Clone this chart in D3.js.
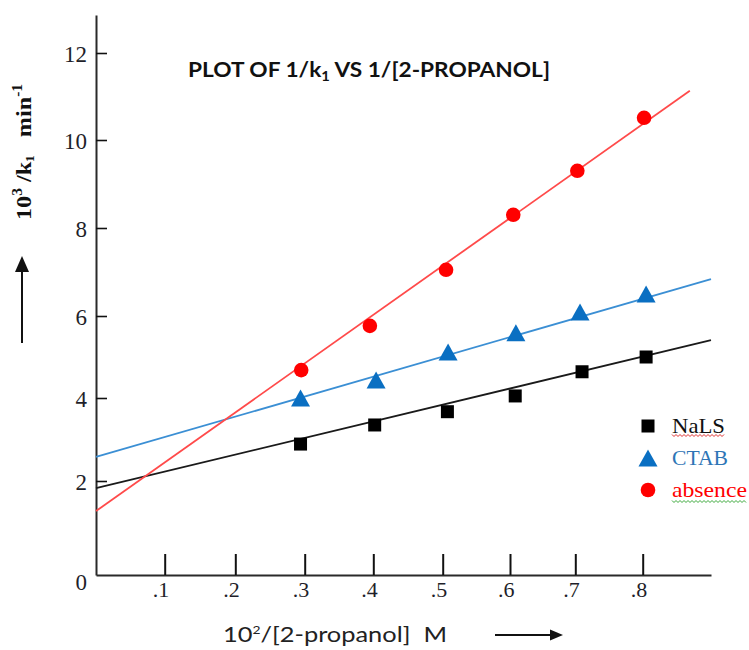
<!DOCTYPE html>
<html><head><meta charset="utf-8">
<script src="https://cdn.jsdelivr.net/npm/d3@7"></script>
<style>body{margin:0;background:#fff}svg{display:block}text{white-space:pre}</style>
</head><body>
<svg id="c" width="749" height="650"></svg>
<script>
// ---- data ----
const seriesNames = ["NaLS", "CTAB", "absence"];
const nalsX = [0.294, 0.402, 0.507, 0.608, 0.710, 0.805];
const nalsY = [2.89, 3.35, 3.67, 4.05, 4.64, 5.00];
const ctabX = [0.294, 0.404, 0.508, 0.609, 0.707, 0.805];
const ctabY = [4.00, 4.44, 5.12, 5.59, 6.09, 6.50];
const absX  = [0.295, 0.395, 0.505, 0.605, 0.703, 0.802];
const absY  = [4.68, 5.76, 7.05, 8.30, 9.30, 10.51];
// fitted straight lines (end points)
const nalsFitX = [0, 0.9],  nalsFitY = [1.85, 5.41];
const ctabFitX = [0, 0.9],  ctabFitY = [2.58, 6.84];
const absFitX  = [0, 0.869], absFitY = [1.36, 11.13];
const xTickVals = [0.1, 0.2, 0.3, 0.4, 0.5, 0.6, 0.7, 0.8];
const xTickLabels = [".1", ".2", ".3", ".4", ".5", ".6", ".7", ".8"];
const yTickVals = [0, 2, 4, 6, 8, 10, 12];
const yTickLabels = ["0", "2", "4", "6", "8", "10", "12"];

// ---- scales (hand-drawn axis, piecewise linear) ----
const x = d3.scaleLinear()
  .domain([0, 0.1, 0.2, 0.3, 0.4, 0.5, 0.6, 0.7, 0.8, 0.9])
  .range([96, 164.7, 235.3, 304.7, 373.3, 442.7, 510, 575.3, 642.7, 711]);
const y = d3.scaleLinear()
  .domain([0, 2, 4, 6, 8, 10, 12, 12.87])
  .range([575, 481, 398, 316, 228, 140, 53, 15]);

const svg = d3.select("#c");
const serif = "'Liberation Serif','Times New Roman',serif";
const sans = "Lato,'Open Sans',sans-serif";

// ---- axes ----
const xAxis = d3.axisBottom(x).tickValues(xTickVals).tickSize(-21).tickSizeOuter(0)
  .tickPadding(0).tickFormat((d, i) => xTickLabels[i]);
const gx = svg.append("g").attr("transform", `translate(0,${y(0)})`).call(xAxis);
gx.select(".domain").attr("stroke", "#2a2a2a").attr("stroke-width", 2);
gx.selectAll(".tick line").attr("stroke", "#111").attr("stroke-width", 2);
gx.selectAll(".tick text").attr("font-family", serif).attr("font-size", 22)
  .attr("fill", "#1f1f2a").attr("text-anchor", "end").attr("x", 4).attr("y", 22).attr("dy", 0);

const yAxis = d3.axisLeft(y).tickValues(yTickVals).tickSize(-11).tickSizeOuter(0)
  .tickPadding(9).tickFormat((d, i) => yTickLabels[i]);
const gy = svg.append("g").attr("transform", `translate(${x(0)},0)`).call(yAxis);
gy.select(".domain").attr("stroke", "#2a2a2a").attr("stroke-width", 2);
gy.selectAll(".tick line").attr("stroke", "#111").attr("stroke-width", 1.6);
gy.selectAll(".tick text").attr("font-family", serif).attr("font-size", 23)
  .attr("fill", "#1f1f2a").attr("dy", "0.36em");
gy.selectAll(".tick").filter(d => d === 0).select("line").remove();
gy.selectAll(".tick").filter(d => d === 0).select("text").attr("dy", "0.62em");

// ---- fitted lines ----
const line = d3.line().x(d => x(d[0])).y(d => y(d[1]));
const fits = [
  {xs: nalsFitX, ys: nalsFitY, c: "#1a1a1a"},
  {xs: ctabFitX, ys: ctabFitY, c: "#3b8fd4"},
  {xs: absFitX,  ys: absFitY,  c: "#ff4a4a"}
];
fits.forEach(f => {
  svg.append("path").datum(d3.zip(f.xs, f.ys)).attr("d", line)
    .attr("fill", "none").attr("stroke", f.c).attr("stroke-width", 1.8);
});

// ---- markers ----
const sq = 13, triW = 19, triH = 17, r = 7.3;
function square(g, cx, cy) {
  g.append("rect").attr("x", cx - sq / 2).attr("y", cy - sq / 2).attr("width", sq).attr("height", sq).attr("fill", "#000");
}
function tri(g, cx, cy) {
  g.append("path").attr("d", `M${cx},${cy - triH / 2}L${cx + triW / 2},${cy + triH / 2}L${cx - triW / 2},${cy + triH / 2}Z`).attr("fill", "#0a6fc2");
}
function circ(g, cx, cy) {
  g.append("circle").attr("cx", cx).attr("cy", cy).attr("r", r).attr("fill", "#ff0000");
}
const mk = svg.append("g");
d3.zip(nalsX, nalsY).forEach(d => square(mk, x(d[0]), y(d[1])));
d3.zip(ctabX, ctabY).forEach(d => tri(mk, x(d[0]), y(d[1])));
d3.zip(absX, absY).forEach(d => circ(mk, x(d[0]), y(d[1])));

// ---- legend ----
const lg = svg.append("g");
const legendColors = ["#111", "#2e75b6", "#ff0000"];
const legendMarkers = [square, tri, circ];
const legendY = [426, 458, 490];
const legendW = [53, 56, 75];
seriesNames.forEach((n, i) => {
  legendMarkers[i](lg, 648, legendY[i]);
  lg.append("text").attr("x", 672).attr("y", legendY[i] + 7).attr("font-family", serif)
    .attr("font-size", 22).attr("fill", legendColors[i])
    .attr("textLength", legendW[i]).attr("lengthAdjust", "spacingAndGlyphs").text(n);
});
// spell-check wavy underlines
function wavy(x0, x1, yy, col) {
  const pts = [];
  for (let px = x0, k = 0; px <= x1; px += 2, k++) pts.push([px, yy + (k % 2 ? 1.5 : -0.5)]);
  lg.append("path").attr("d", d3.line()(pts)).attr("fill", "none").attr("stroke", col).attr("stroke-width", 1);
}
wavy(672, 724, 435, "#e03030");
wavy(672, 746, 501, "#3aa83a");

// ---- title ----
const t = svg.append("text").attr("x", 188).attr("y", 77).attr("font-family", sans)
  .attr("font-weight", "bold").attr("font-size", 20).attr("fill", "#111");
t.append("tspan").text("PLOT OF 1/k");
t.append("tspan").attr("font-size", 13).attr("dy", 4).text("1");
t.append("tspan").attr("dy", -4).text(" VS 1/[2-PROPANOL]");
t.attr("textLength", 362).attr("lengthAdjust", "spacingAndGlyphs");

// ---- y-axis title ----
const yt = svg.append("text").attr("transform", "translate(31,220) rotate(-90)")
  .attr("font-family", serif).attr("font-weight", "bold").attr("font-size", 22).attr("fill", "#111");
yt.append("tspan").text("10");
yt.append("tspan").attr("font-size", 14).attr("dy", -9).text("3");
yt.append("tspan").attr("dy", 9).text(" /k");
yt.append("tspan").attr("font-size", 12).attr("dy", 3).text("1");
yt.append("tspan").attr("dy", -3).text("   min");
yt.append("tspan").attr("font-size", 14).attr("dy", -9).text("-1");
yt.attr("textLength", 136).attr("lengthAdjust", "spacingAndGlyphs");
// y arrow
svg.append("line").attr("x1", 22).attr("x2", 22).attr("y1", 343).attr("y2", 266).attr("stroke", "#111").attr("stroke-width", 2);
svg.append("path").attr("d", "M22,256L29,272L15,272Z").attr("fill", "#111");

// ---- x-axis title ----
const xt = svg.append("text").attr("x", 223).attr("y", 642).attr("font-family", sans)
  .attr("font-size", 22).attr("fill", "#222");
xt.append("tspan").text("10");
xt.append("tspan").attr("font-size", 12).attr("dy", -8).text("2");
xt.append("tspan").attr("dy", 8).text("/[2-propanol]  M");
xt.attr("textLength", 224).attr("lengthAdjust", "spacingAndGlyphs");
svg.append("line").attr("x1", 495).attr("x2", 553).attr("y1", 635).attr("y2", 635).attr("stroke", "#111").attr("stroke-width", 2);
svg.append("path").attr("d", "M563,635L550,629.5L550,640.5Z").attr("fill", "#111");
</script>
</body></html>
